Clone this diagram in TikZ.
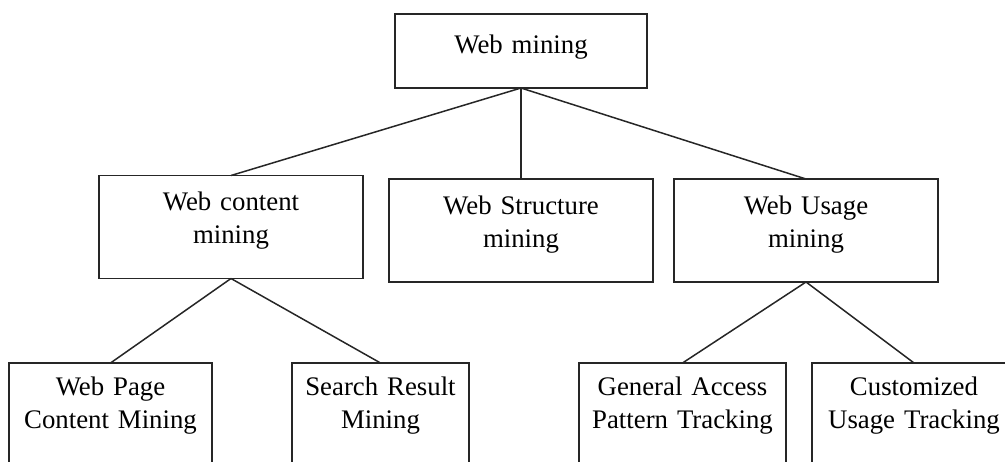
\documentclass[tikz,border=0pt]{standalone}
\usepackage{fontspec}
\setmainfont{Liberation Serif}
\usetikzlibrary{positioning}
\definecolor{edge}{HTML}{262626}

\begin{document}
\begin{tikzpicture}[x=1pt,y=-1pt,
  font=\fontsize{26.8}{33}\selectfont,
  box/.style={draw=edge,line width=1.8pt,align=center,inner sep=0pt,outer sep=0pt,
              text width=264pt,text height=35pt,text depth=68pt},
  leaf/.style={box,text height=32pt,text depth=71pt},
  l/.style={draw=edge,line width=1.5pt}]
\useasboundingbox (0,0) rectangle (1005,461);
\clip (0,0) rectangle (1005,461);
\node[box,anchor=north,text width=252pt,text height=39pt,text depth=35pt] (wm) at (521,14) {Web mining};
\node[box,below=91pt of wm] (ws) {Web Structure\\mining};
\node[box,left=26pt of ws,yshift=3.5pt] (wc) {Web content\\mining};
\node[box,right=21pt of ws] (wu) {Web Usage\\mining};
\node[leaf,anchor=north,text width=203pt] (wp) at (110.5,363) {Web Page\\Content Mining};
\node[leaf,right=80pt of wp,text width=177pt] (sr) {Search Result\\Mining};
\node[leaf,right=110pt of sr,text width=207pt] (ga) {General Access\\Pattern Tracking};
\node[leaf,right=26pt of ga,text width=204pt] (cu) {Customized\\Usage Tracking};
\draw[l] (wm.south) -- (wc.north);
\draw[l] (wm.south) -- (ws.north);
\draw[l] (wm.south) -- (wu.north);
\draw[l] (wc.south) -- (wp.north);
\draw[l] (wc.south) -- (sr.north);
\draw[l] (wu.south) -- (ga.north);
\draw[l] (wu.south) -- (cu.north);
\end{tikzpicture}
\end{document}
